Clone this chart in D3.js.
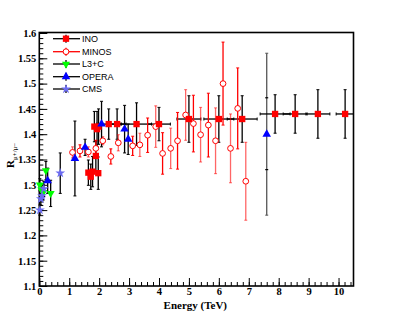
<!DOCTYPE html>
<html>
<head>
<meta charset="utf-8">
<script src="https://cdn.jsdelivr.net/npm/d3@7"></script>
<style>
  body { margin: 0; background: #fff; }
  svg { display: block; }
</style>
</head>
<body>
<div id="graph"></div>
<script>

// INO (red squares, black error bars)
let inoE    = [1.64, 1.72, 1.78, 1.89, 1.97, 1.84, 1.93, 1.98, 2.32, 2.6, 3.25, 4.0, 5.0, 6.0, 6.78, 7.88, 8.55, 9.31, 10.22];
let inoR    = [1.324, 1.316, 1.326, 1.357, 1.323, 1.415, 1.41, 1.415, 1.42, 1.42, 1.42, 1.42, 1.43, 1.43, 1.43, 1.44, 1.44, 1.44, 1.44];
let inoErr  = [0.025, 0.025, 0.03, 0.03, 0.032, 0.03, 0.035, 0.035, 0.03, 0.03, 0.042, 0.033, 0.046, 0.046, 0.046, 0.038, 0.038, 0.048, 0.048];
let inoXerr = [0.03, 0.03, 0.03, 0.03, 0.03, 0.05, 0.05, 0.05, 0.4, 0.3, 0.5, 0.38, 0.4, 0.5, 0.5, 0.5, 0.4, 0.4, 0.3];

// MINOS (open red circles)
let minosE   = [1.11, 1.36, 1.64, 1.89, 2.12, 2.39, 2.64, 3.12, 3.36, 3.62, 3.89, 4.12, 4.39, 4.62, 4.89, 5.15, 5.39, 5.65, 5.89, 6.14, 6.39, 6.63, 6.9];
let minosR   = [1.364, 1.367, 1.365, 1.372, 1.387, 1.356, 1.383, 1.377, 1.379, 1.398, 1.415, 1.362, 1.372, 1.387, 1.438, 1.421, 1.399, 1.418, 1.387, 1.50, 1.372, 1.451, 1.307];
let minosErr = [0.011, 0.012, 0.01, 0.016, 0.008, 0.015, 0.016, 0.019, 0.023, 0.034, 0.041, 0.041, 0.04, 0.056, 0.05, 0.056, 0.054, 0.063, 0.065, 0.082, 0.068, 0.08, 0.077];

// L3+C (green down triangles)
let l3cE   = [0.02, 0.07, 0.13, 0.22, 0.38];
let l3cR   = [1.30, 1.29, 1.285, 1.328, 1.283];
let l3cErr = [0.012, 0.012, 0.015, 0.018, 0.026];

// OPERA (blue triangles)
let operaE   = [0.28, 1.19, 1.53, 2.08, 2.85, 2.97, 7.6];
let operaR   = [1.308, 1.352, 1.374, 1.42, 1.41, 1.39, 1.40];
let operaErr = [0.025, 0.074, 0.016, 0.045, 0.047, 0.03, 0.16];

// CMS (blue stars)
let cmsE   = [0.02, 0.05, 0.09, 0.15, 0.7];
let cmsR   = [1.25, 1.272, 1.278, 1.292, 1.323];
let cmsErr = [0.01, 0.012, 0.012, 0.015, 0.04];

let xTicks = d3.range(0, 11);
let yTicks = [1.1, 1.15, 1.2, 1.25, 1.3, 1.35, 1.4, 1.45, 1.5, 1.55, 1.6];
let legendNames = ["INO", "MINOS", "L3+C", "OPERA", "CMS"];

let width = 394,
    height = 318;

let svg = d3.select("#graph")
    .append("svg")
    .attr("width", width)
    .attr("height", height);

let x = d3.scaleLinear().domain([0, 10.5]).range([39.3, 353.5]);
let y = d3.scaleLinear().domain([1.1, 1.6]).range([286, 33]);

let serif = "'Liberation Serif', 'Times New Roman', serif";
let sans = "'Liberation Sans', Arial, sans-serif";

// minor ticks
svg.append("g")
    .attr("transform", `translate(0, ${y(1.1)})`)
    .call(d3.axisBottom(x).tickValues(d3.range(0, 10.41, 0.2)).tickSize(-4).tickFormat(""))
    .call(g => g.select(".domain").remove());
svg.append("g")
    .attr("transform", `translate(${x(0)}, 0)`)
    .call(d3.axisLeft(y).tickValues(d3.range(1.1, 1.601, 0.01)).tickSize(-4).tickFormat(""))
    .call(g => g.select(".domain").remove());

// major ticks + labels
svg.append("g")
    .attr("transform", `translate(0, ${y(1.1)})`)
    .call(d3.axisBottom(x).tickValues(xTicks).tickSize(-8).tickPadding(2).tickFormat(d3.format("d")))
    .call(g => g.select(".domain").remove())
    .selectAll("text")
    .style("font-family", serif).style("font-weight", "bold").style("font-size", "10.5px").attr("fill", "#000");

svg.append("g")
    .attr("transform", `translate(${x(0)}, 0)`)
    .call(d3.axisLeft(y).tickValues(yTicks).tickSize(-8).tickPadding(3).tickFormat(d => String(+d.toFixed(2))))
    .call(g => g.select(".domain").remove())
    .selectAll("text")
    .style("font-family", serif).style("font-weight", "bold").style("font-size", "10.5px").attr("fill", "#000");

// frame
svg.append("rect")
    .attr("x", x(0)).attr("y", y(1.6) - 0.5)
    .attr("width", x(10.5) - x(0)).attr("height", y(1.1) - y(1.6) + 0.5)
    .attr("fill", "none").attr("stroke", "#000").attr("stroke-width", 1.6);

let plot = svg.append("g");

function errBars(E, R, err, color, opacityFn, xerr) {
    let g = plot.append("g");
    E.forEach(function (e, i) {
        let op = opacityFn ? opacityFn(i) : 1;
        let cx = x(e), y0 = y(R[i] - err[i]), y1 = y(R[i] + err[i]);
        g.append("line").attr("x1", cx).attr("x2", cx).attr("y1", y0).attr("y2", y1)
            .attr("stroke", color).attr("stroke-width", 1.3).attr("stroke-opacity", op);
        [y0, y1].forEach(function (yy) {
            g.append("line").attr("x1", cx - 1.5).attr("x2", cx + 1.5).attr("y1", yy).attr("y2", yy)
                .attr("stroke", color).attr("stroke-width", 1).attr("stroke-opacity", op);
        });
        if (xerr) {
            let x0 = x(e - xerr[i]), x1 = Math.min(x(e + xerr[i]), x(10.5)), cy = y(R[i]);
            g.append("line").attr("x1", x0).attr("x2", x1).attr("y1", cy).attr("y2", cy)
                .attr("stroke", color).attr("stroke-width", 1.3);
            [x0, x1].forEach(function (xx) {
                g.append("line").attr("x1", xx).attr("x2", xx).attr("y1", cy - 1.5).attr("y2", cy + 1.5)
                    .attr("stroke", color).attr("stroke-width", 1);
            });
        }
    });
}

function markers(E, R, type, size, fill, stroke, rot) {
    plot.append("g").selectAll("path")
        .data(E)
        .enter()
        .append("path")
        .attr("d", d3.symbol().type(type).size(size))
        .attr("transform", (d, i) => `translate(${x(d)}, ${y(R[i])}) rotate(${rot || 0})`)
        .attr("fill", fill)
        .attr("stroke", stroke || "none")
        .attr("stroke-width", 1);
}

// error bars
errBars(operaE.slice(6), operaR.slice(6), operaErr.slice(6), "#555");
errBars(inoE, inoR, inoErr, "#000", null, inoXerr);
errBars(minosE, minosR, minosErr, "#ff0000", i => (i % 2 ? 1 : 0.6));
errBars(l3cE, l3cR, l3cErr, "#000");
errBars(operaE.slice(0, 6), operaR.slice(0, 6), operaErr.slice(0, 6), "#000");
errBars(cmsE, cmsR, cmsErr, "#000");

// inner caps on the high energy OPERA point
let lastE = operaE[6];
[1.472, 1.33].forEach(function (v) {
    plot.append("line").attr("x1", x(lastE) - 1.5).attr("x2", x(lastE) + 1.5)
        .attr("y1", y(v)).attr("y2", y(v)).attr("stroke", "#000").attr("stroke-width", 1.2);
});

// markers
markers(minosE, minosR, d3.symbolCircle, 26, "#fff", "#ff0000");
markers(inoE, inoR, d3.symbolSquare, 40, "#ff0000");
markers(l3cE, l3cR, d3.symbolTriangle, 28, "#00ff00", null, 180);
markers(cmsE, cmsR, d3.symbolStar, 30, "#6b6bf0");
markers(operaE, operaR, d3.symbolTriangle, 32, "#0000ff");

// legend
let legendY = [38.7, 51.7, 64, 76.7, 89];
let legendLine = ["#000", "#ff0000", "#000", "#000", "#000"];
let legend = svg.append("g");
legendNames.forEach(function (name, i) {
    let ly = legendY[i];
    legend.append("line").attr("x1", 53).attr("x2", 80).attr("y1", ly).attr("y2", ly)
        .attr("stroke", legendLine[i]).attr("stroke-width", 1.3);
    legend.append("line").attr("x1", 66).attr("x2", 66).attr("y1", ly - 4).attr("y2", ly + 4)
        .attr("stroke", legendLine[i]).attr("stroke-width", 1.3);
    legend.append("text").attr("x", 82).attr("y", ly + 3.3)
        .style("font-family", sans).style("font-size", "9px").text(name);
});
let legendSym = [
    { type: d3.symbolSquare, size: 40, fill: "#ff0000", stroke: "none", rot: 0 },
    { type: d3.symbolCircle, size: 26, fill: "#fff", stroke: "#ff0000", rot: 0 },
    { type: d3.symbolTriangle, size: 28, fill: "#00ff00", stroke: "none", rot: 180 },
    { type: d3.symbolTriangle, size: 32, fill: "#0000ff", stroke: "none", rot: 0 },
    { type: d3.symbolStar, size: 30, fill: "#6b6bf0", stroke: "none", rot: 0 }
];
legendSym.forEach(function (s, i) {
    legend.append("path").attr("d", d3.symbol().type(s.type).size(s.size))
        .attr("transform", `translate(66, ${legendY[i]}) rotate(${s.rot})`)
        .attr("fill", s.fill).attr("stroke", s.stroke);
});

// axis titles
svg.append("text")
    .attr("x", 227).attr("y", 309)
    .style("text-anchor", "end")
    .style("font-family", serif).style("font-weight", "bold").style("font-size", "11px")
    .text("Energy (TeV)");

let yt = svg.append("text")
    .attr("transform", "translate(14, 168) rotate(-90)")
    .style("font-family", serif).style("font-weight", "bold").style("font-size", "11px");
yt.append("tspan").text("R");
yt.append("tspan").attr("dy", 3).style("font-size", "7px").style("font-weight", "normal").text("μ+/μ−");

</script>
</body>
</html>
